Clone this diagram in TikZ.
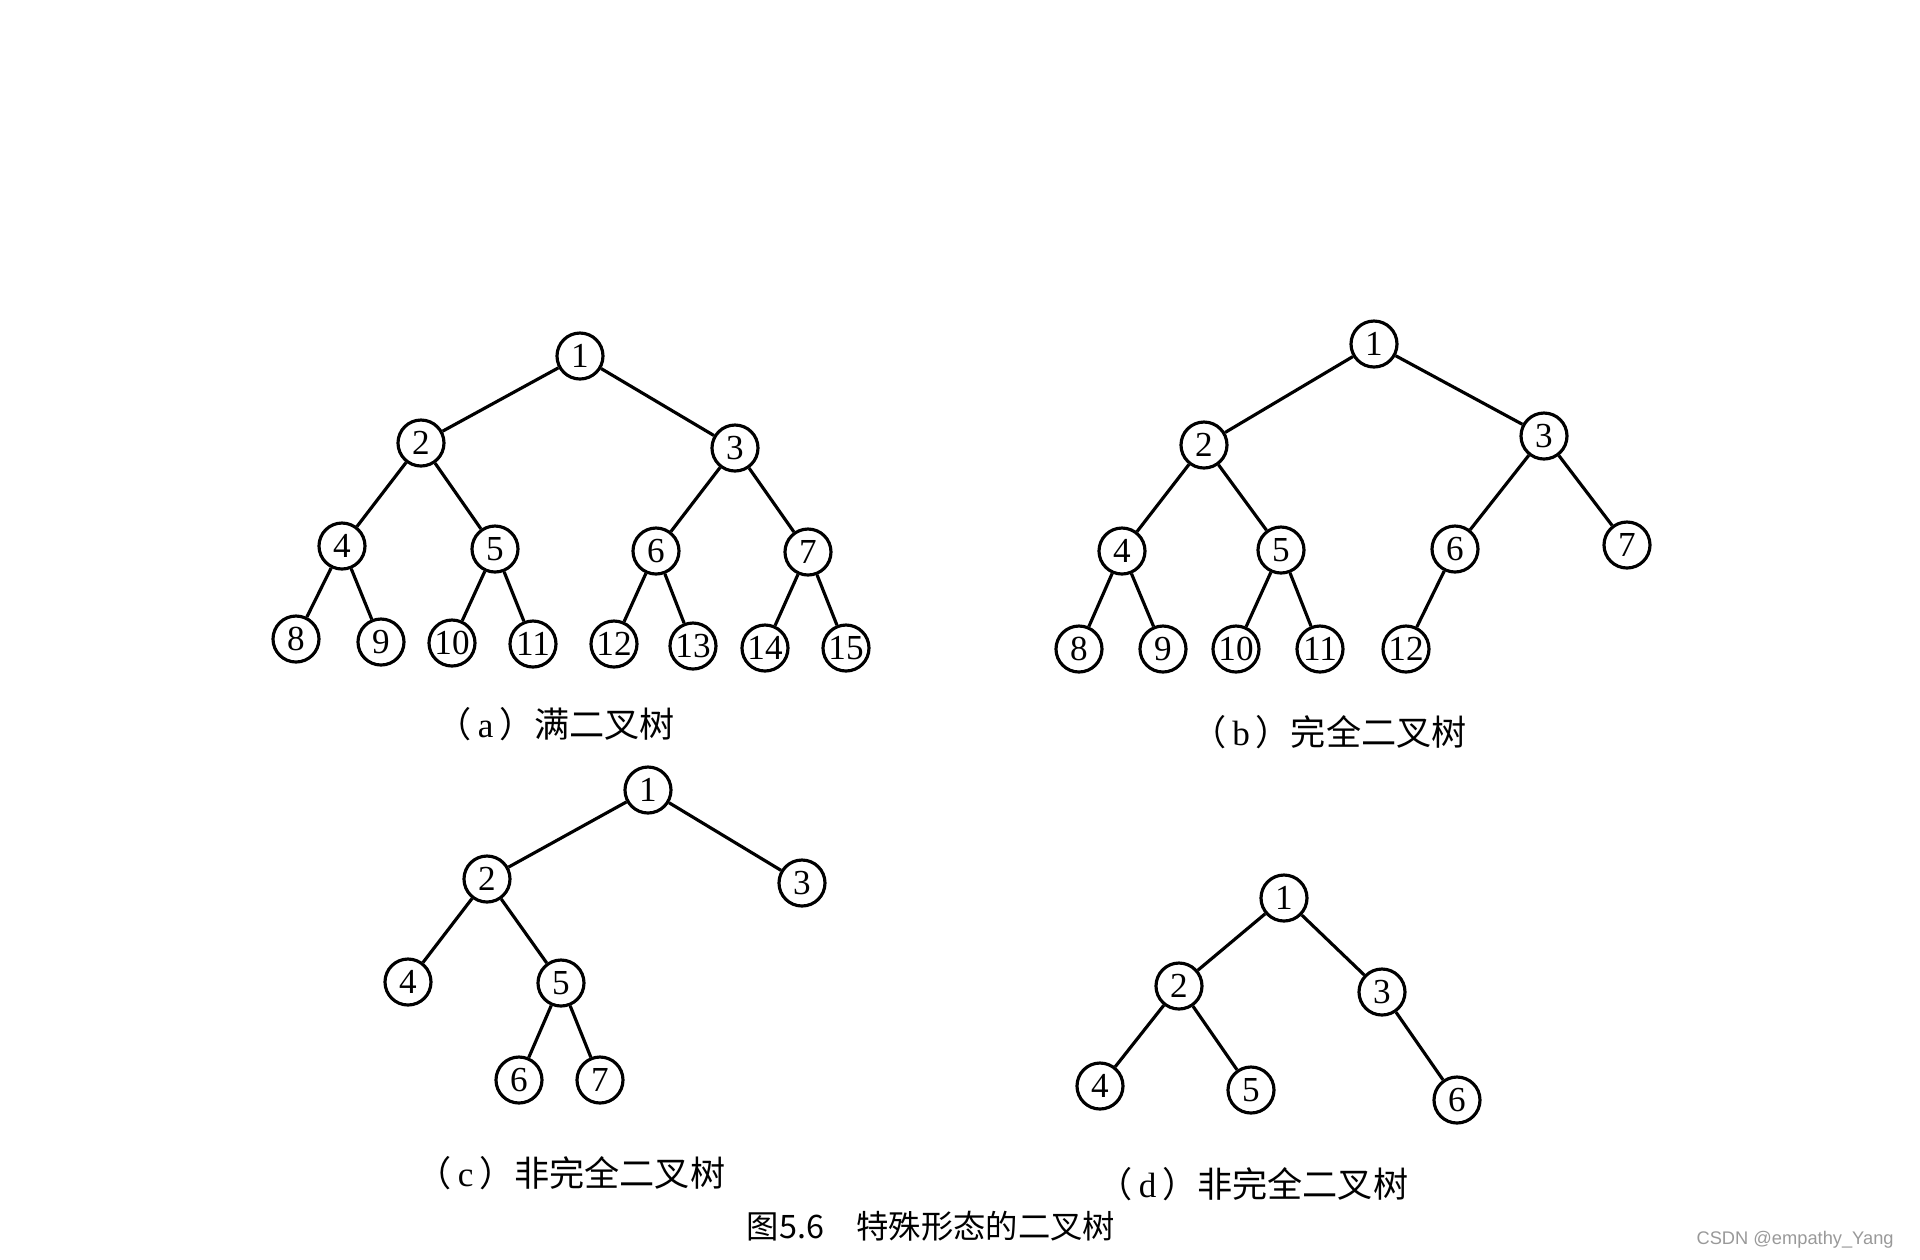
\documentclass[tikz,border=0pt]{standalone}
\usepackage{fontspec}
\setmainfont{Liberation Serif}
\setsansfont{Liberation Sans}
\newfontfamily\cjk{Noto Sans CJK SC}
\definecolor{MarkClr}{rgb}{0.6,0.6,0.6}

\begin{document}
\begin{tikzpicture}[x=0.1mm,y=-0.1mm,
  vtx/.style={circle,draw,line width=0.9pt,minimum size=4.6mm,inner sep=0pt,
    font=\fontsize{10}{10}\selectfont},
  edge/.style={line width=0.9pt},
  subcap/.style={font=\fontsize{10}{12}\selectfont},
  figcap/.style={font=\cjk\fontsize{9.2}{12}\selectfont}]
\useasboundingbox (0,0) rectangle (1920,1259);

% (a)
\node[vtx] (a1) at (580,356) {1};
\node[vtx] (a2) at (421,443) {2};
\node[vtx] (a3) at (735,448) {3};
\node[vtx] (a4) at (342,546) {4};
\node[vtx] (a5) at (495,549) {5};
\node[vtx] (a6) at (656,551) {6};
\node[vtx] (a7) at (808,552) {7};
\node[vtx] (a8) at (296,639) {8};
\node[vtx] (a9) at (381,642) {9};
\node[vtx] (a10) at (452,643) {10};
\node[vtx] (a11) at (533,644) {11};
\node[vtx] (a12) at (614,644) {12};
\node[vtx] (a13) at (693,646) {13};
\node[vtx] (a14) at (765,648) {14};
\node[vtx] (a15) at (846,648) {15};
\foreach \p/\q in {a1/a2,a1/a3,a2/a4,a2/a5,a3/a6,a3/a7,a4/a8,a4/a9,a5/a10,a5/a11,
  a6/a12,a6/a13,a7/a14,a7/a15}
  \draw[edge] (\p) -- (\q);
\node[subcap] (capa) at (556,724) {{\cjk （}\,a\,{\cjk ）满二叉树}};

% (b)
\node[vtx] (b1) at (1374,344) {1};
\node[vtx] (b2) at (1204,445) {2};
\node[vtx] (b3) at (1544,436) {3};
\node[vtx] (b4) at (1122,551) {4};
\node[vtx] (b5) at (1281,550) {5};
\node[vtx] (b6) at (1455,549) {6};
\node[vtx] (b7) at (1627,545) {7};
\node[vtx] (b8) at (1079,649) {8};
\node[vtx] (b9) at (1163,649) {9};
\node[vtx] (b10) at (1236,649) {10};
\node[vtx] (b11) at (1320,649) {11};
\node[vtx] (b12) at (1406,649) {12};
\foreach \p/\q in {b1/b2,b1/b3,b2/b4,b2/b5,b3/b6,b3/b7,b4/b8,b4/b9,b5/b10,b5/b11,b6/b12}
  \draw[edge] (\p) -- (\q);
\node[subcap] (capb) at (1329,732) {{\cjk （}\,b\,{\cjk ）完全二叉树}};

% (c)
\node[vtx] (c1) at (648,790) {1};
\node[vtx] (c2) at (487,879) {2};
\node[vtx] (c3) at (802,883) {3};
\node[vtx] (c4) at (408,982) {4};
\node[vtx] (c5) at (561,983) {5};
\node[vtx] (c6) at (519,1080) {6};
\node[vtx] (c7) at (600,1080) {7};
\foreach \p/\q in {c1/c2,c1/c3,c2/c4,c2/c5,c5/c6,c5/c7}
  \draw[edge] (\p) -- (\q);
\node[subcap] (capc) at (571,1173) {{\cjk （}\,c\,{\cjk ）非完全二叉树}};

% (d)
\node[vtx] (d1) at (1284,898) {1};
\node[vtx] (d2) at (1179,986) {2};
\node[vtx] (d3) at (1382,992) {3};
\node[vtx] (d4) at (1100,1086) {4};
\node[vtx] (d5) at (1251,1090) {5};
\node[vtx] (d6) at (1457,1100) {6};
\foreach \p/\q in {d1/d2,d1/d3,d2/d4,d2/d5,d3/d6}
  \draw[edge] (\p) -- (\q);
\node[subcap] (capd) at (1253,1184) {{\cjk （}\,d\,{\cjk ）非完全二叉树}};

\node[figcap] (cap) at (931,1226) {图5.6\quad 特殊形态的二叉树};
\node[font=\sffamily\fontsize{5.2}{6}\selectfont,text=MarkClr,anchor=east] (mark) at (1906,1240) {CSDN @empathy\_Yang};
\end{tikzpicture}
\end{document}
